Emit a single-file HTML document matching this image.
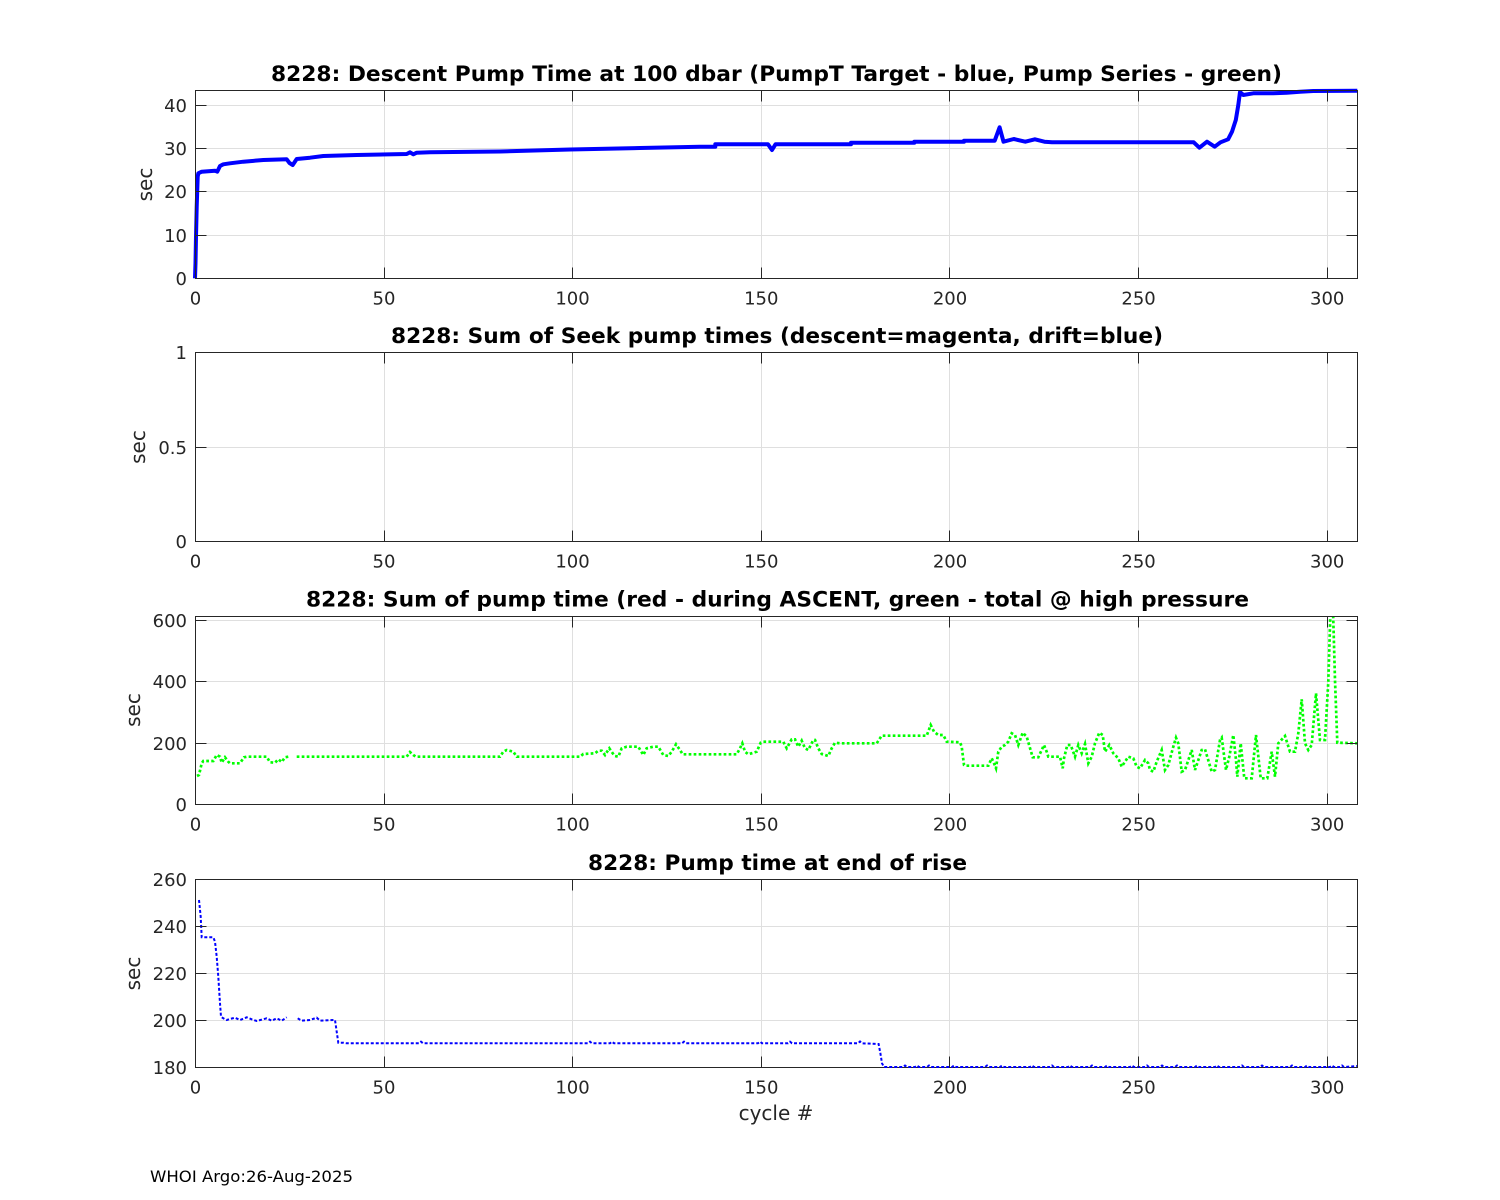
<!DOCTYPE html>
<html><head><meta charset="utf-8"><style>
html,body{margin:0;padding:0;background:#fff;}
svg{display:block;}
text{font-family:"DejaVu Sans","Liberation Sans",sans-serif;}
.tk{font-size:18px;fill:#262626;}
.ttl{font-size:21px;font-weight:bold;fill:#000;}
.lab{font-size:20px;fill:#262626;}
.grid{stroke:#dfdfdf;stroke-width:1;fill:none;}
.box{stroke:#262626;stroke-width:1;fill:none;}
.tick{stroke:#262626;stroke-width:1;}
</style></head><body>
<svg width="1500" height="1200" viewBox="0 0 1500 1200" xmlns="http://www.w3.org/2000/svg">
<rect width="1500" height="1200" fill="#fff"/>
<defs>
<clipPath id="c1"><rect x="190" y="88" width="1170" height="194"/></clipPath>
<clipPath id="c3"><rect x="195.5" y="616.5" width="1162" height="190"/></clipPath>
<clipPath id="c4"><rect x="190" y="877" width="1170" height="194"/></clipPath>
</defs>

<!-- ============ PLOT 1 ============ -->
<g>
<path class="grid" d="M384.5 90.5V278.5M572.5 90.5V278.5M761.5 90.5V278.5M949.5 90.5V278.5M1138.5 90.5V278.5M1327.5 90.5V278.5M195.5 105.5H1357.5M195.5 148.5H1357.5M195.5 191.5H1357.5M195.5 235.5H1357.5"/>
<polyline clip-path="url(#c1)" fill="none" stroke="#0000ff" stroke-width="4" stroke-linejoin="round" points="195,278.3 195.5,263 196,236.7 196.7,206.7 197.7,176.7 198.3,173.3 201.7,171.7 215,170.7 217.3,171.7 220,166 223.3,164.3 230,163.3 243.3,161.7 263.3,160 286.7,159.3 289.5,163 292.7,165 296.7,159 310,157.7 323.3,156 356.7,155 406.7,154 410,152.3 413.3,154.3 416.7,152.7 430,152.3 500,151.5 570,149.5 640,148 700,146.7 715.3,146.7 715.3,144.3 768,144.3 772,150 775.5,144.3 851,144.3 851,142.7 914.3,142.7 914.3,141.7 964,141.7 964,140.7 994.7,140.7 999.6,127.3 1003.5,141.7 1013.8,139 1025.3,141.7 1034.9,139.3 1044.4,141.7 1052,142.3 1193.7,142.3 1199.4,147.7 1207,141.7 1214.7,146.7 1220.5,142.3 1228.1,139.3 1232,131.7 1235.8,120 1238.3,105 1240,92 1243.3,95 1253.3,93.3 1273.3,93.3 1286.7,92.7 1300,91.7 1313.3,91 1357.3,90.8"/>
<rect class="box" x="195.5" y="90.5" width="1162" height="188"/>
<path class="tick" d="M384.5 278.5v-11M572.5 278.5v-11M761.5 278.5v-11M949.5 278.5v-11M1138.5 278.5v-11M1327.5 278.5v-11M384.5 90.5v11M572.5 90.5v11M761.5 90.5v11M949.5 90.5v11M1138.5 90.5v11M1327.5 90.5v11M195.5 105.5h11M195.5 148.5h11M195.5 191.5h11M195.5 235.5h11M1357.5 105.5h-11M1357.5 148.5h-11M1357.5 191.5h-11M1357.5 235.5h-11"/>
<g class="tk" text-anchor="end">
<text x="187" y="112">40</text><text x="187" y="155">30</text><text x="187" y="198">20</text><text x="187" y="242">10</text><text x="187" y="285">0</text>
</g>
<g class="tk" text-anchor="middle">
<text x="195.5" y="304.5">0</text><text x="384" y="304.5">50</text><text x="572.5" y="304.5">100</text><text x="761.3" y="304.5">150</text><text x="950" y="304.5">200</text><text x="1138.6" y="304.5">250</text><text x="1327.2" y="304.5">300</text>
</g>
<text class="lab" text-anchor="middle" transform="translate(152,184.5) rotate(-90)">sec</text>
<text class="ttl" x="776.5" y="81" text-anchor="middle" textLength="1011" lengthAdjust="spacingAndGlyphs">8228: Descent Pump Time at 100 dbar (PumpT Target - blue, Pump Series - green)</text>
</g>

<!-- ============ PLOT 2 ============ -->
<g>
<path class="grid" d="M384.5 352.5V541.5M572.5 352.5V541.5M761.5 352.5V541.5M949.5 352.5V541.5M1138.5 352.5V541.5M1327.5 352.5V541.5M195.5 447.5H1357.5"/>
<rect class="box" x="195.5" y="352.5" width="1162" height="189"/>
<path class="tick" d="M384.5 541.5v-11M572.5 541.5v-11M761.5 541.5v-11M949.5 541.5v-11M1138.5 541.5v-11M1327.5 541.5v-11M384.5 352.5v11M572.5 352.5v11M761.5 352.5v11M949.5 352.5v11M1138.5 352.5v11M1327.5 352.5v11M195.5 447.5h11M1357.5 447.5h-11"/>
<g class="tk" text-anchor="end">
<text x="187" y="359">1</text><text x="187" y="454">0.5</text><text x="187" y="548">0</text>
</g>
<g class="tk" text-anchor="middle">
<text x="195.5" y="567.5">0</text><text x="384" y="567.5">50</text><text x="572.5" y="567.5">100</text><text x="761.3" y="567.5">150</text><text x="950" y="567.5">200</text><text x="1138.6" y="567.5">250</text><text x="1327.2" y="567.5">300</text>
</g>
<text class="lab" text-anchor="middle" transform="translate(145,447) rotate(-90)">sec</text>
<text class="ttl" x="777" y="343" text-anchor="middle" textLength="772" lengthAdjust="spacingAndGlyphs">8228: Sum of Seek pump times (descent=magenta, drift=blue)</text>
</g>

<!-- ============ PLOT 3 ============ -->
<g>
<path class="grid" d="M384.5 616.5V804.5M572.5 616.5V804.5M761.5 616.5V804.5M949.5 616.5V804.5M1138.5 616.5V804.5M1327.5 616.5V804.5M195.5 620.5H1357.5M195.5 681.5H1357.5M195.5 743.5H1357.5"/>
<g clip-path="url(#c3)" fill="none" stroke="#00ff00" stroke-width="2.7" stroke-dasharray="2.7 2.3">
<polyline points="197,776 199,775 201.7,763.3 203.3,761 213.3,761 216.7,755 220,756.7 221.7,762.7 225,757.3 228.3,761.7 230,763.3 240,763.3 244,757.3 246.7,756.7 266.7,756.7 270,762.3 275,762.7 278.3,759.3 281.7,762 285,757.3 288.3,756.7"/>
<polyline points="296.7,756.7 406.7,756.7 410,752 413.3,755 416,756.7 500,756.7 503.3,751.7 506.7,750 513.3,751.7 516.7,756.7 580,756.7 583.3,754 595,753.3 598.3,750.7 601.7,750.7 605,755 609.3,748.3 612.7,753.3 615,756 618.3,756.7 621.7,748.3 626.7,746.7 638.3,746.7 643.3,755 646.7,748.3 653.3,746.7 658.3,746.7 663.3,755 668.3,756 671.7,751.7 676,744.3 680,750 682.7,754.3 736.7,754.3 740,748.3 742.3,743.3 745,751.7 748.3,754.3 756.7,751.7 760.7,742.7 763.3,741.7 783.3,741.7 786.7,748.3 791.7,739.3 795,739.3 798.3,746.7 801.7,740.7 805,748.3 808.3,750 813.3,740 815,740 818.3,748.3 821.7,754 828.3,756 831.7,748.3 835,742.7 840,743.3 876.7,743.3 881.7,735.7 926.7,735.7 930.7,725 934,731.7 938.3,735 943.3,735 946.7,741.7 960,742.3 961.7,746.7 964,765 965,765.7 988.3,765.7 991.7,758.3 994,763.3 996,768.3 998.3,751.7 1001.7,746.7 1005,745 1008.3,741.7 1011.7,733.3 1015,735 1018.3,745 1022.7,732.7 1026.7,736.7 1032.7,757.3 1038.3,757.3 1044,745 1046.7,751.7 1048.3,756.7 1060,756.7 1062.7,768.3 1064,758.3 1067.3,745 1070.7,745 1075,756.7 1078.3,745 1081.7,753.3 1085,744 1088.3,763.3 1091.7,756.7 1095,743.3 1099.3,732.7 1102.7,735 1105,751.7 1109.3,745 1113.3,753.3 1118.3,758.3 1121.7,766.7 1128.3,756.7 1133.3,758.3 1136.7,766.7 1140,768.3 1145,760 1148.3,763.3 1150,770 1153.3,771.7 1156.7,761.7 1161.7,750 1165,770 1168.3,765 1173.3,746.7 1176,737.7 1178.3,743.3 1181.7,771.7 1185,770 1191.7,750 1195,770 1201.7,750 1205,749.3 1211.7,771.7 1215,770 1220,740 1221.7,737.7 1226,770 1229.3,756.7 1233.3,735 1236,760 1237.3,776.7 1240.7,743.3 1244.3,778.3 1251.7,778.3 1256,735 1260.7,778.3 1267.3,778.3 1271.7,751.7 1275,776.7 1278.3,743.3 1285,736 1290,751.7 1295,751.7 1298.3,733.3 1301.7,699.3 1305,743.3 1308.3,750 1311.7,745 1316,693.3 1320,740 1325,740 1328.3,681.7 1330.5,610 1333,610 1335,680 1337.3,742.7 1357.3,743.3"/>
</g>
<rect class="box" x="195.5" y="616.5" width="1162" height="188"/>
<path class="tick" d="M384.5 804.5v-11M572.5 804.5v-11M761.5 804.5v-11M949.5 804.5v-11M1138.5 804.5v-11M1327.5 804.5v-11M384.5 616.5v11M572.5 616.5v11M761.5 616.5v11M949.5 616.5v11M1138.5 616.5v11M1327.5 616.5v11M195.5 620.5h11M195.5 681.5h11M195.5 743.5h11M1357.5 620.5h-11M1357.5 681.5h-11M1357.5 743.5h-11"/>
<g class="tk" text-anchor="end">
<text x="187" y="627">600</text><text x="187" y="688">400</text><text x="187" y="750">200</text><text x="187" y="811">0</text>
</g>
<g class="tk" text-anchor="middle">
<text x="195.5" y="830.5">0</text><text x="384" y="830.5">50</text><text x="572.5" y="830.5">100</text><text x="761.3" y="830.5">150</text><text x="950" y="830.5">200</text><text x="1138.6" y="830.5">250</text><text x="1327.2" y="830.5">300</text>
</g>
<text class="lab" text-anchor="middle" transform="translate(140,710) rotate(-90)">sec</text>
<text class="ttl" x="777.5" y="606.5" text-anchor="middle" textLength="943" lengthAdjust="spacingAndGlyphs">8228: Sum of pump time (red - during ASCENT, green - total @ high pressure</text>
</g>

<!-- ============ PLOT 4 ============ -->
<g>
<path class="grid" d="M384.5 879.5V1067.5M572.5 879.5V1067.5M761.5 879.5V1067.5M949.5 879.5V1067.5M1138.5 879.5V1067.5M1327.5 879.5V1067.5M195.5 926.5H1357.5M195.5 973.5H1357.5M195.5 1020.5H1357.5"/>
<rect class="box" x="195.5" y="879.5" width="1162" height="188"/>
<g clip-path="url(#c4)" fill="none" stroke="#0000ff" stroke-width="2" stroke-dasharray="3 2">
<polyline points="199,900 200.7,916.7 201.7,937.3 213.3,937.3 215,941.7 216.7,956.7 218.3,976.7 220,1003.3 221,1016.7 223.3,1018.3 226.7,1020 230,1019 235,1017.7 240,1020 246.7,1017.3 251.7,1019.3 256.7,1021 266.7,1018.3 271.7,1020.7 276.7,1018.3 281.7,1020.7 286.7,1017.3"/>
<polyline points="297.7,1018.3 301.7,1020.7 310,1020 316.7,1017.7 320,1020.7 333.3,1020 335,1020 336.7,1031.7 338.3,1042.7 343.3,1042.7 346.7,1043.3 419,1043.3 421,1041.7 423,1043.3 588,1043.3 590,1041.7 592,1043.3 610,1043.3 612,1041.7 614,1043.3 682,1043.3 684,1041.7 686,1043.3 758,1043.3 760,1041.7 762,1043.3 788,1043.3 790,1041.7 792,1043.3 858,1043.3 860,1041.5 862,1043.3 878.6,1044 880.4,1053.3 882,1063.3 884,1067 903,1067 905,1065.5 907,1067 915,1067 917,1065.5 919,1067 927,1067 929,1065.5 931,1067 940,1067 952,1067 954,1065.5 956,1067 985,1067 987,1065.5 989,1067 1000,1067 1002,1065.5 1004,1067 1030,1067 1032,1065.5 1034,1067 1050,1067 1052,1065.5 1054,1067 1068,1067 1070,1065.5 1072,1067 1090,1067 1092,1065.5 1094,1067 1105,1067 1107,1065.5 1109,1067 1130,1067 1132,1065.5 1134,1067 1145,1067 1147,1065.5 1149,1067 1160,1067 1162,1065.5 1164,1067 1175,1067 1177,1065.5 1179,1067 1195,1067 1197,1065.5 1199,1067 1215,1067 1217,1065.5 1219,1067 1240,1067 1242,1065.5 1244,1067 1260,1067 1262,1065.5 1264,1067 1290,1067 1292,1065.5 1294,1067 1305,1067 1307,1065.5 1309,1067 1330,1067 1332,1065.5 1334,1067 1340,1067 1342,1065.5 1344,1067 1357,1066"/>
</g>
<path class="tick" d="M384.5 1067.5v-11M572.5 1067.5v-11M761.5 1067.5v-11M949.5 1067.5v-11M1138.5 1067.5v-11M1327.5 1067.5v-11M384.5 879.5v11M572.5 879.5v11M761.5 879.5v11M949.5 879.5v11M1138.5 879.5v11M1327.5 879.5v11M195.5 926.5h11M195.5 973.5h11M195.5 1020.5h11M1357.5 926.5h-11M1357.5 973.5h-11M1357.5 1020.5h-11"/>
<g class="tk" text-anchor="end">
<text x="187" y="886">260</text><text x="187" y="933">240</text><text x="187" y="980">220</text><text x="187" y="1027">200</text><text x="187" y="1074">180</text>
</g>
<g class="tk" text-anchor="middle">
<text x="195.5" y="1093.5">0</text><text x="384" y="1093.5">50</text><text x="572.5" y="1093.5">100</text><text x="761.3" y="1093.5">150</text><text x="950" y="1093.5">200</text><text x="1138.6" y="1093.5">250</text><text x="1327.2" y="1093.5">300</text>
</g>
<text class="lab" text-anchor="middle" transform="translate(140,973.5) rotate(-90)">sec</text>
<text class="ttl" x="777.5" y="870" text-anchor="middle" textLength="379" lengthAdjust="spacingAndGlyphs">8228: Pump time at end of rise</text>
<text class="lab" x="776" y="1120" text-anchor="middle">cycle #</text>
</g>

<text x="150" y="1182" style="font-size:16px;fill:#000;" textLength="203" lengthAdjust="spacingAndGlyphs">WHOI Argo:26-Aug-2025</text>
</svg>
</body></html>
